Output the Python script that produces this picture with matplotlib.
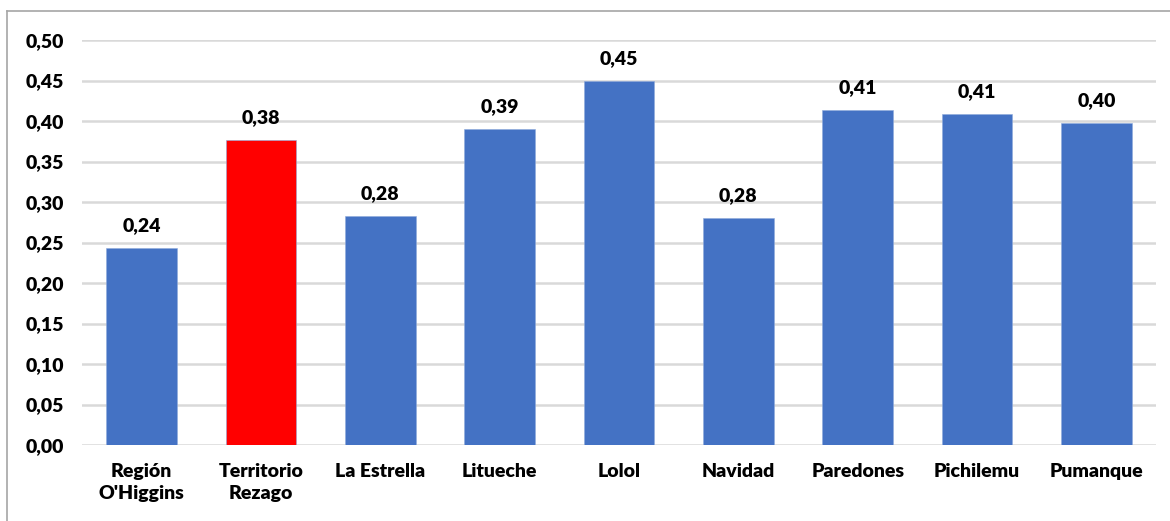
import matplotlib.pyplot as plt
from matplotlib.lines import Line2D

comunas = ["Región\nO'Higgins", "Territorio\nRezago", "La Estrella", "Litueche", "Lolol",
           "Navidad", "Paredones", "Pichilemu", "Pumanque"]
valores = [0.243, 0.376, 0.283, 0.390, 0.449, 0.280, 0.414, 0.409, 0.397]
yticks = [0.0, 0.05, 0.10, 0.15, 0.20, 0.25, 0.30, 0.35, 0.40, 0.45, 0.50]

plt.rcParams['font.family'] = ['Lato', 'DejaVu Sans']
peso = 'heavy'
tam = 14

fig = plt.figure(figsize=(11.7, 5.21), dpi=100)
ax = fig.add_axes([82/1170, 1-445/521, (1156-82)/1170, (445-40)/521])

colores = ['#4472C4'] * len(valores)
colores[1] = '#FF0000'
x = range(len(valores))
ax.bar(x, valores, width=0.59, color=colores, edgecolor='#8eaadb', linewidth=0.4, zorder=3)

for xi, v in zip(x, valores):
    ax.annotate(f"{v:.2f}".replace('.', ','), (xi, v), xytext=(0, 10), textcoords='offset points',
                ha='center', va='bottom', fontsize=tam, fontweight=peso)

ax.set_xlim(-0.5, len(valores) - 0.5)
ax.set_ylim(0, 0.5)
ax.set_yticks(yticks)
ax.set_yticklabels([f"{t:.2f}".replace('.', ',') for t in yticks], fontsize=tam, fontweight=peso)
ax.set_xticks(list(x))
ax.set_xticklabels(comunas, fontsize=tam, fontweight=peso, linespacing=1.35)
ax.tick_params(axis='both', length=0)
ax.tick_params(axis='y', pad=13)
ax.tick_params(axis='x', pad=13)
ax.grid(axis='y', color='#d9d9d9', linewidth=1.8, zorder=0)
for s in ax.spines.values():
    s.set_visible(False)

# marco gris del grafico
fig.add_artist(Line2D([7/1170, 7/1170], [0, 1-11/521], color='#a6a6a6', linewidth=1.2))
fig.add_artist(Line2D([7/1170, 1], [1-11/521, 1-11/521], color='#a6a6a6', linewidth=1.2))

fig.savefig('out.png', dpi=100)
